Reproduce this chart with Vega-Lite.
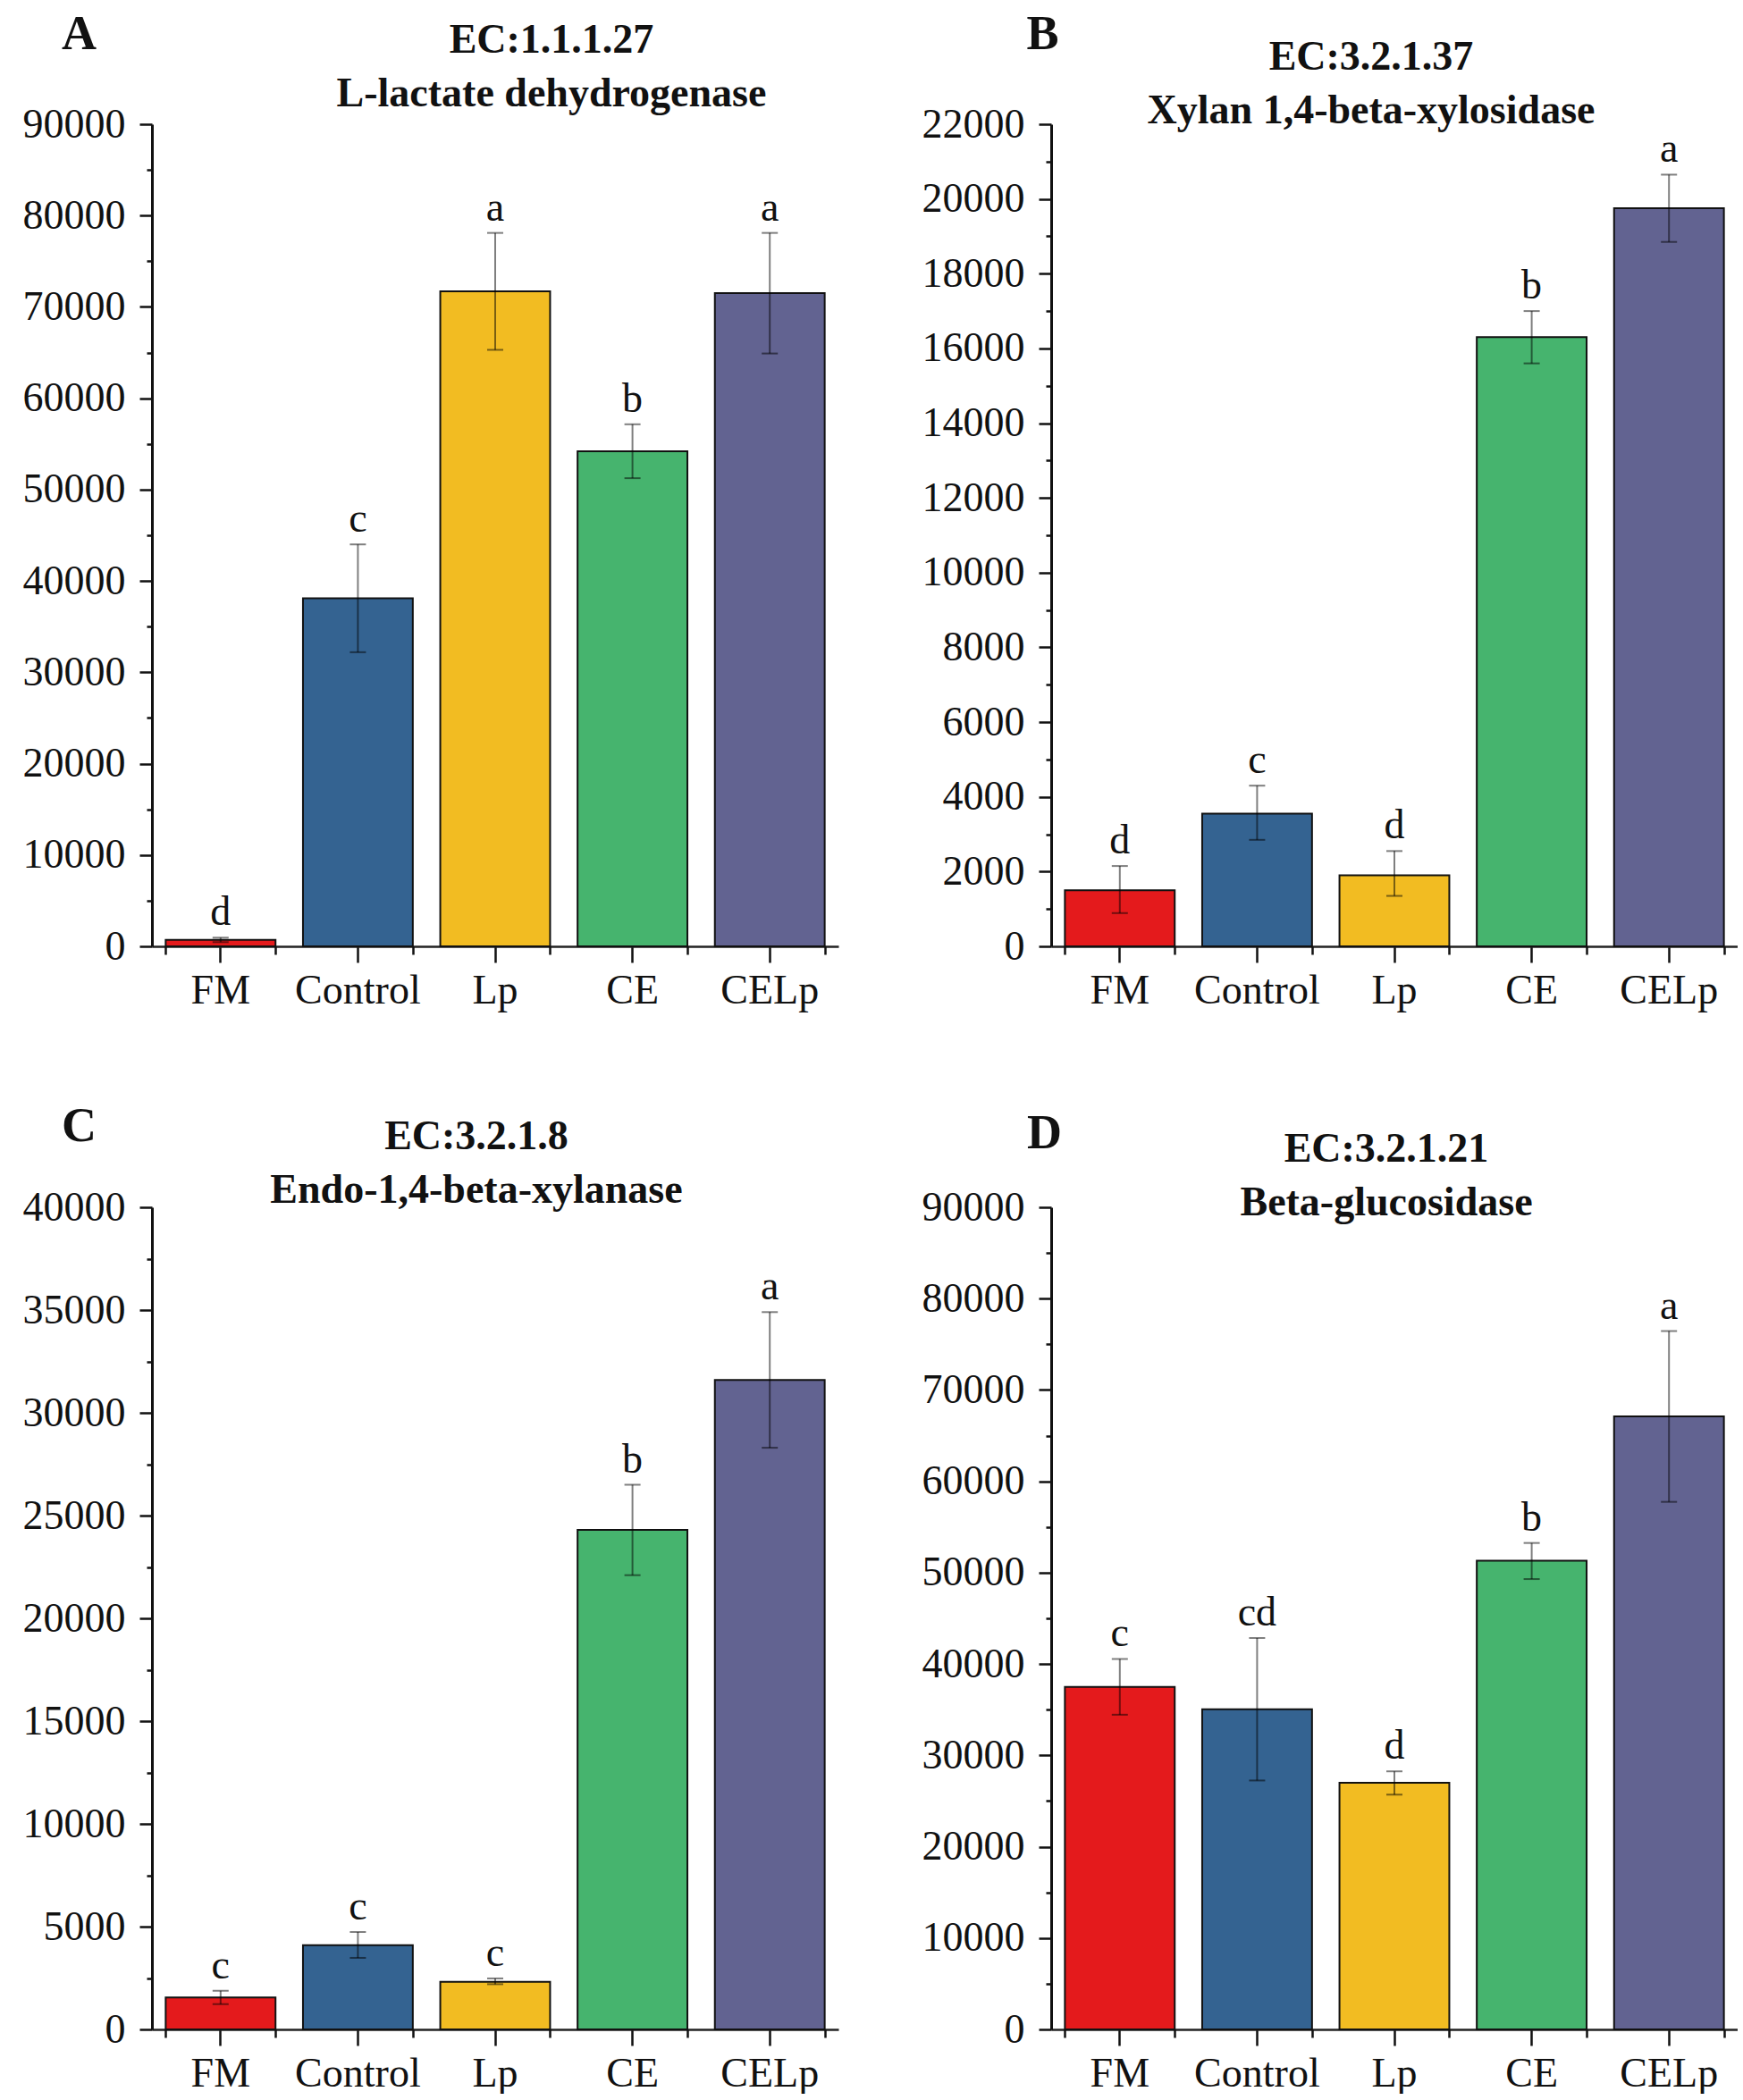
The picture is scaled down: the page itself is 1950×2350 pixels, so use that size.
{
  "$schema": "https://vega.github.io/schema/vega-lite/v6.json",
  "background": "white",
  "padding": {"left": 25, "top": 11, "right": 0, "bottom": 0},
  "config": {
    "font": "Liberation Serif",
    "view": {"stroke": null},
    "axis": {"labelFont": "Liberation Serif", "titleFont": "Liberation Serif", "grid": false, "labelColor": "#111", "titleColor": "#111"},
    "title": {"font": "Liberation Serif", "fontSize": 46, "fontWeight": "bold", "lineHeight": 60, "anchor": "middle", "frame": "group", "baseline": "bottom", "color": "#111"},
    "text": {"font": "Liberation Serif", "fontSize": 46, "color": "#111"}
  },
  "datasets": {
    "ldh": [
      {"group": "FM", "mean": 700, "lo": 460, "hi": 950, "lab": "d"},
      {"group": "Control", "mean": 38100, "lo": 32200, "hi": 44000, "lab": "c"},
      {"group": "Lp", "mean": 71700, "lo": 65300, "hi": 78100, "lab": "a"},
      {"group": "CE", "mean": 54200, "lo": 51250, "hi": 57150, "lab": "b"},
      {"group": "CELp", "mean": 71500, "lo": 64900, "hi": 78100, "lab": "a"}
    ],
    "xylosidase": [
      {"group": "FM", "mean": 1500, "lo": 890, "hi": 2150, "lab": "d"},
      {"group": "Control", "mean": 3550, "lo": 2850, "hi": 4300, "lab": "c"},
      {"group": "Lp", "mean": 1900, "lo": 1350, "hi": 2550, "lab": "d"},
      {"group": "CE", "mean": 16300, "lo": 15600, "hi": 17000, "lab": "b"},
      {"group": "CELp", "mean": 19750, "lo": 18850, "hi": 20650, "lab": "a"}
    ],
    "xylanase": [
      {"group": "FM", "mean": 1550, "lo": 1230, "hi": 1880, "lab": "c"},
      {"group": "Control", "mean": 4100, "lo": 3480, "hi": 4740, "lab": "c"},
      {"group": "Lp", "mean": 2320, "lo": 2200, "hi": 2480, "lab": "c"},
      {"group": "CE", "mean": 24300, "lo": 22100, "hi": 26500, "lab": "b"},
      {"group": "CELp", "mean": 31600, "lo": 28300, "hi": 34900, "lab": "a"}
    ],
    "glucosidase": [
      {"group": "FM", "mean": 37500, "lo": 34450, "hi": 40550, "lab": "c"},
      {"group": "Control", "mean": 35050, "lo": 27250, "hi": 42850, "lab": "cd"},
      {"group": "Lp", "mean": 27000, "lo": 25700, "hi": 28250, "lab": "d"},
      {"group": "CE", "mean": 51300, "lo": 49300, "hi": 53250, "lab": "b"},
      {"group": "CELp", "mean": 67100, "lo": 57750, "hi": 76450, "lab": "a"}
    ]
  },
  "columns": 2,
  "bounds": "flush",
  "spacing": {"column": 238, "row": 292},
  "concat": [
    {
      "width": 768, "height": 920,
      "data": {"name": "ldh"},
      "title": {"text": ["EC:1.1.1.27", "L-lactate dehydrogenase"], "dx": 63, "offset": -118},
      "resolve": {"axis": {"x": "independent", "y": "independent"}},
      "layer": [
        {
          "mark": {"type": "bar", "stroke": "#111", "strokeWidth": 2},
          "encoding": {
            "x": {"field": "group", "type": "nominal", "sort": ["FM", "Control", "Lp", "CE", "CELp"], "scale": {"paddingInner": 0.2, "paddingOuter": 0.1},
                  "axis": {"orient": "bottom", "title": null, "labelAngle": 0, "labelFontSize": 46, "labelPadding": 9, "domainColor": "#222", "domainWidth": 2.5, "tickSize": 18, "tickWidth": 2.5, "tickColor": "#111"}},
            "y": {"field": "mean", "type": "quantitative", "scale": {"domain": [0, 90000], "nice": false, "zero": true},
                  "axis": {"orient": "left", "values": [0, 10000, 20000, 30000, 40000, 50000, 60000, 70000, 80000, 90000], "format": "d", "labelFontSize": 46, "labelPadding": 16, "domainColor": "#111", "domainWidth": 3, "tickSize": 14, "tickWidth": 2.5, "tickColor": "#111",
                           "title": "A", "titleAngle": 0, "titleX": -82, "titleY": -85, "titleFontSize": 54, "titleFontWeight": "bold", "titleAlign": "center", "titleBaseline": "alphabetic"}},
            "color": {"field": "group", "type": "nominal", "scale": {"domain": ["FM", "Control", "Lp", "CE", "CELp"], "range": ["#E41A1C", "#346391", "#F2BC22", "#46B46E", "#626391"]}, "legend": null}
          }
        },
        {
          "mark": {"type": "rule", "color": "#000", "opacity": 0.5, "strokeWidth": 2},
          "encoding": {
            "x": {"field": "group", "type": "nominal", "sort": ["FM", "Control", "Lp", "CE", "CELp"],
                  "axis": {"orient": "bottom", "title": null, "labels": false, "domain": false, "tickBand": "extent", "tickSize": 9, "tickWidth": 2.5, "tickColor": "#111"}},
            "y": {"field": "lo", "type": "quantitative",
                  "axis": {"orient": "left", "title": null, "labels": false, "domain": false, "values": [5000, 15000, 25000, 35000, 45000, 55000, 65000, 75000, 85000], "tickSize": 6, "tickWidth": 2.5, "tickColor": "#111"}},
            "y2": {"field": "hi"}
          }
        },
        {
          "mark": {"type": "tick", "color": "#000", "opacity": 0.5, "size": 18, "thickness": 2},
          "encoding": {
            "x": {"field": "group", "type": "nominal", "sort": ["FM", "Control", "Lp", "CE", "CELp"], "axis": null},
            "y": {"field": "hi", "type": "quantitative", "axis": null}
          }
        },
        {
          "mark": {"type": "tick", "color": "#000", "opacity": 0.5, "size": 18, "thickness": 2},
          "encoding": {
            "x": {"field": "group", "type": "nominal", "sort": ["FM", "Control", "Lp", "CE", "CELp"], "axis": null},
            "y": {"field": "lo", "type": "quantitative", "axis": null}
          }
        },
        {
          "mark": {"type": "text", "baseline": "alphabetic", "dy": -14},
          "encoding": {
            "x": {"field": "group", "type": "nominal", "sort": ["FM", "Control", "Lp", "CE", "CELp"], "axis": null},
            "y": {"field": "hi", "type": "quantitative", "axis": null},
            "text": {"field": "lab"}
          }
        }
      ]
    },
    {
      "width": 768, "height": 920,
      "data": {"name": "xylosidase"},
      "title": {"text": ["EC:3.2.1.37", "Xylan 1,4-beta-xylosidase"], "dx": -26, "offset": -137},
      "resolve": {"axis": {"x": "independent", "y": "independent"}},
      "layer": [
        {
          "mark": {"type": "bar", "stroke": "#111", "strokeWidth": 2},
          "encoding": {
            "x": {"field": "group", "type": "nominal", "sort": ["FM", "Control", "Lp", "CE", "CELp"], "scale": {"paddingInner": 0.2, "paddingOuter": 0.1},
                  "axis": {"orient": "bottom", "title": null, "labelAngle": 0, "labelFontSize": 46, "labelPadding": 9, "domainColor": "#222", "domainWidth": 2.5, "tickSize": 18, "tickWidth": 2.5, "tickColor": "#111"}},
            "y": {"field": "mean", "type": "quantitative", "scale": {"domain": [0, 22000], "nice": false, "zero": true},
                  "axis": {"orient": "left", "values": [0, 2000, 4000, 6000, 8000, 10000, 12000, 14000, 16000, 18000, 20000, 22000], "format": "d", "labelFontSize": 46, "labelPadding": 16, "domainColor": "#111", "domainWidth": 3, "tickSize": 14, "tickWidth": 2.5, "tickColor": "#111",
                           "title": "B", "titleAngle": 0, "titleX": -10, "titleY": -85, "titleFontSize": 54, "titleFontWeight": "bold", "titleAlign": "center", "titleBaseline": "alphabetic"}},
            "color": {"field": "group", "type": "nominal", "scale": {"domain": ["FM", "Control", "Lp", "CE", "CELp"], "range": ["#E41A1C", "#346391", "#F2BC22", "#46B46E", "#626391"]}, "legend": null}
          }
        },
        {
          "mark": {"type": "rule", "color": "#000", "opacity": 0.5, "strokeWidth": 2},
          "encoding": {
            "x": {"field": "group", "type": "nominal", "sort": ["FM", "Control", "Lp", "CE", "CELp"],
                  "axis": {"orient": "bottom", "title": null, "labels": false, "domain": false, "tickBand": "extent", "tickSize": 9, "tickWidth": 2.5, "tickColor": "#111"}},
            "y": {"field": "lo", "type": "quantitative",
                  "axis": {"orient": "left", "title": null, "labels": false, "domain": false, "values": [1000, 3000, 5000, 7000, 9000, 11000, 13000, 15000, 17000, 19000, 21000], "tickSize": 6, "tickWidth": 2.5, "tickColor": "#111"}},
            "y2": {"field": "hi"}
          }
        },
        {
          "mark": {"type": "tick", "color": "#000", "opacity": 0.5, "size": 18, "thickness": 2},
          "encoding": {
            "x": {"field": "group", "type": "nominal", "sort": ["FM", "Control", "Lp", "CE", "CELp"], "axis": null},
            "y": {"field": "hi", "type": "quantitative", "axis": null}
          }
        },
        {
          "mark": {"type": "tick", "color": "#000", "opacity": 0.5, "size": 18, "thickness": 2},
          "encoding": {
            "x": {"field": "group", "type": "nominal", "sort": ["FM", "Control", "Lp", "CE", "CELp"], "axis": null},
            "y": {"field": "lo", "type": "quantitative", "axis": null}
          }
        },
        {
          "mark": {"type": "text", "baseline": "alphabetic", "dy": -14},
          "encoding": {
            "x": {"field": "group", "type": "nominal", "sort": ["FM", "Control", "Lp", "CE", "CELp"], "axis": null},
            "y": {"field": "hi", "type": "quantitative", "axis": null},
            "text": {"field": "lab"}
          }
        }
      ]
    },
    {
      "width": 768, "height": 920,
      "data": {"name": "xylanase"},
      "title": {"text": ["EC:3.2.1.8", "Endo-1,4-beta-xylanase"], "dx": -21, "offset": -123},
      "resolve": {"axis": {"x": "independent", "y": "independent"}},
      "layer": [
        {
          "mark": {"type": "bar", "stroke": "#111", "strokeWidth": 2},
          "encoding": {
            "x": {"field": "group", "type": "nominal", "sort": ["FM", "Control", "Lp", "CE", "CELp"], "scale": {"paddingInner": 0.2, "paddingOuter": 0.1},
                  "axis": {"orient": "bottom", "title": null, "labelAngle": 0, "labelFontSize": 46, "labelPadding": 9, "domainColor": "#222", "domainWidth": 2.5, "tickSize": 18, "tickWidth": 2.5, "tickColor": "#111"}},
            "y": {"field": "mean", "type": "quantitative", "scale": {"domain": [0, 40000], "nice": false, "zero": true},
                  "axis": {"orient": "left", "values": [0, 5000, 10000, 15000, 20000, 25000, 30000, 35000, 40000], "format": "d", "labelFontSize": 46, "labelPadding": 16, "domainColor": "#111", "domainWidth": 3, "tickSize": 14, "tickWidth": 2.5, "tickColor": "#111",
                           "title": "C", "titleAngle": 0, "titleX": -82, "titleY": -75, "titleFontSize": 54, "titleFontWeight": "bold", "titleAlign": "center", "titleBaseline": "alphabetic"}},
            "color": {"field": "group", "type": "nominal", "scale": {"domain": ["FM", "Control", "Lp", "CE", "CELp"], "range": ["#E41A1C", "#346391", "#F2BC22", "#46B46E", "#626391"]}, "legend": null}
          }
        },
        {
          "mark": {"type": "rule", "color": "#000", "opacity": 0.5, "strokeWidth": 2},
          "encoding": {
            "x": {"field": "group", "type": "nominal", "sort": ["FM", "Control", "Lp", "CE", "CELp"],
                  "axis": {"orient": "bottom", "title": null, "labels": false, "domain": false, "tickBand": "extent", "tickSize": 9, "tickWidth": 2.5, "tickColor": "#111"}},
            "y": {"field": "lo", "type": "quantitative",
                  "axis": {"orient": "left", "title": null, "labels": false, "domain": false, "values": [2500, 7500, 12500, 17500, 22500, 27500, 32500, 37500], "tickSize": 6, "tickWidth": 2.5, "tickColor": "#111"}},
            "y2": {"field": "hi"}
          }
        },
        {
          "mark": {"type": "tick", "color": "#000", "opacity": 0.5, "size": 18, "thickness": 2},
          "encoding": {
            "x": {"field": "group", "type": "nominal", "sort": ["FM", "Control", "Lp", "CE", "CELp"], "axis": null},
            "y": {"field": "hi", "type": "quantitative", "axis": null}
          }
        },
        {
          "mark": {"type": "tick", "color": "#000", "opacity": 0.5, "size": 18, "thickness": 2},
          "encoding": {
            "x": {"field": "group", "type": "nominal", "sort": ["FM", "Control", "Lp", "CE", "CELp"], "axis": null},
            "y": {"field": "lo", "type": "quantitative", "axis": null}
          }
        },
        {
          "mark": {"type": "text", "baseline": "alphabetic", "dy": -14},
          "encoding": {
            "x": {"field": "group", "type": "nominal", "sort": ["FM", "Control", "Lp", "CE", "CELp"], "axis": null},
            "y": {"field": "hi", "type": "quantitative", "axis": null},
            "text": {"field": "lab"}
          }
        }
      ]
    },
    {
      "width": 768, "height": 920,
      "data": {"name": "glucosidase"},
      "title": {"text": ["EC:3.2.1.21", "Beta-glucosidase"], "dx": -9, "offset": -129},
      "resolve": {"axis": {"x": "independent", "y": "independent"}},
      "layer": [
        {
          "mark": {"type": "bar", "stroke": "#111", "strokeWidth": 2},
          "encoding": {
            "x": {"field": "group", "type": "nominal", "sort": ["FM", "Control", "Lp", "CE", "CELp"], "scale": {"paddingInner": 0.2, "paddingOuter": 0.1},
                  "axis": {"orient": "bottom", "title": null, "labelAngle": 0, "labelFontSize": 46, "labelPadding": 9, "domainColor": "#222", "domainWidth": 2.5, "tickSize": 18, "tickWidth": 2.5, "tickColor": "#111"}},
            "y": {"field": "mean", "type": "quantitative", "scale": {"domain": [0, 90000], "nice": false, "zero": true},
                  "axis": {"orient": "left", "values": [0, 10000, 20000, 30000, 40000, 50000, 60000, 70000, 80000, 90000], "format": "d", "labelFontSize": 46, "labelPadding": 16, "domainColor": "#111", "domainWidth": 3, "tickSize": 14, "tickWidth": 2.5, "tickColor": "#111",
                           "title": "D", "titleAngle": 0, "titleX": -8, "titleY": -67, "titleFontSize": 54, "titleFontWeight": "bold", "titleAlign": "center", "titleBaseline": "alphabetic"}},
            "color": {"field": "group", "type": "nominal", "scale": {"domain": ["FM", "Control", "Lp", "CE", "CELp"], "range": ["#E41A1C", "#346391", "#F2BC22", "#46B46E", "#626391"]}, "legend": null}
          }
        },
        {
          "mark": {"type": "rule", "color": "#000", "opacity": 0.5, "strokeWidth": 2},
          "encoding": {
            "x": {"field": "group", "type": "nominal", "sort": ["FM", "Control", "Lp", "CE", "CELp"],
                  "axis": {"orient": "bottom", "title": null, "labels": false, "domain": false, "tickBand": "extent", "tickSize": 9, "tickWidth": 2.5, "tickColor": "#111"}},
            "y": {"field": "lo", "type": "quantitative",
                  "axis": {"orient": "left", "title": null, "labels": false, "domain": false, "values": [5000, 15000, 25000, 35000, 45000, 55000, 65000, 75000, 85000], "tickSize": 6, "tickWidth": 2.5, "tickColor": "#111"}},
            "y2": {"field": "hi"}
          }
        },
        {
          "mark": {"type": "tick", "color": "#000", "opacity": 0.5, "size": 18, "thickness": 2},
          "encoding": {
            "x": {"field": "group", "type": "nominal", "sort": ["FM", "Control", "Lp", "CE", "CELp"], "axis": null},
            "y": {"field": "hi", "type": "quantitative", "axis": null}
          }
        },
        {
          "mark": {"type": "tick", "color": "#000", "opacity": 0.5, "size": 18, "thickness": 2},
          "encoding": {
            "x": {"field": "group", "type": "nominal", "sort": ["FM", "Control", "Lp", "CE", "CELp"], "axis": null},
            "y": {"field": "lo", "type": "quantitative", "axis": null}
          }
        },
        {
          "mark": {"type": "text", "baseline": "alphabetic", "dy": -14},
          "encoding": {
            "x": {"field": "group", "type": "nominal", "sort": ["FM", "Control", "Lp", "CE", "CELp"], "axis": null},
            "y": {"field": "hi", "type": "quantitative", "axis": null},
            "text": {"field": "lab"}
          }
        }
      ]
    }
  ]
}
